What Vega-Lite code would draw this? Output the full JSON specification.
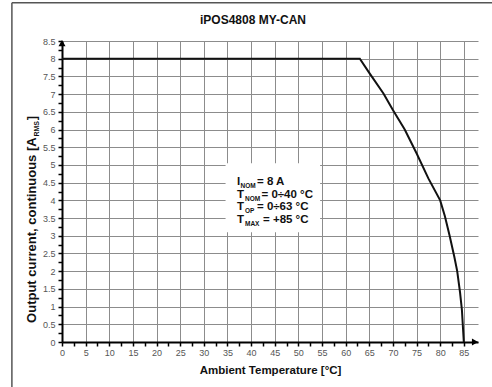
{
  "$schema": "https://vega.github.io/schema/vega-lite/v6.json",
  "width": 416,
  "height": 301,
  "autosize": {"type": "none"},
  "padding": {"left": 62, "top": 41, "right": 14, "bottom": 45},
  "config": {"view": {"stroke": null}, "font": "Liberation Sans", "text": {"font": "Liberation Sans"}},
  "datasets": {
    "curve": [
      {"x": 0, "y": 8}, {"x": 63, "y": 8}, {"x": 65, "y": 7.6}, {"x": 68, "y": 7.02},
      {"x": 70, "y": 6.55}, {"x": 72.5, "y": 6.0}, {"x": 75, "y": 5.33}, {"x": 77.5, "y": 4.62},
      {"x": 80, "y": 4.0}, {"x": 81, "y": 3.55}, {"x": 82, "y": 3.0}, {"x": 83, "y": 2.4}, {"x": 83.6, "y": 2.0},
      {"x": 84.2, "y": 1.4}, {"x": 84.6, "y": 0.9}, {"x": 85, "y": 0}
    ],
    "ann": [
      {"id": 1, "x": 37.02, "y": 4.43, "main": "I", "sub": "NOM", "rest": "= 8 A"},
      {"id": 2, "x": 37.02, "y": 4.08, "main": "T", "sub": "NOM", "rest": "= 0÷40 °C"},
      {"id": 3, "x": 37.02, "y": 3.72, "main": "T", "sub": "OP", "rest": "= 0÷63 °C"},
      {"id": 4, "x": 37.02, "y": 3.36, "main": "T", "sub": "MAX", "rest": "= +85 °C"}
    ]
  },
  "encoding": {
    "x": {
      "field": "x", "type": "quantitative",
      "scale": {"domain": [0, 88], "nice": false, "zero": false},
      "axis": {
        "values": [0,2.5,5,7.5,10,12.5,15,17.5,20,22.5,25,27.5,30,32.5,35,37.5,40,42.5,45,47.5,50,52.5,55,57.5,60,62.5,65,67.5,70,72.5,75,77.5,80,82.5,85],
        "labelExpr": "datum.value % 5 === 0 ? format(datum.value, 'd') : ''",
        "grid": true,
        "gridColor": "#8c8c8c",
        "gridWidth": 1,
        "gridOpacity": {"condition": {"test": "datum.value % 5 !== 0", "value": 0}, "value": 1},
        "domainColor": "#000000",
        "domainWidth": 2,
        "tickColor": "#000000",
        "tickWidth": 1.5,
        "tickSize": 4,
        "labelColor": "#555555",
        "labelFontSize": 9,
        "labelPadding": 2,
        "labelFlush": false,
        "labelOverlap": false,
        "title": "Ambient Temperature [°C]",
        "titleFontSize": 11.5,
        "titleFontWeight": "bold",
        "titleColor": "#111111",
        "titlePadding": 7
      }
    },
    "y": {
      "field": "y", "type": "quantitative",
      "scale": {"domain": [0, 8.5], "nice": false, "zero": false},
      "axis": {
        "values": [0,0.25,0.5,0.75,1,1.25,1.5,1.75,2,2.25,2.5,2.75,3,3.25,3.5,3.75,4,4.25,4.5,4.75,5,5.25,5.5,5.75,6,6.25,6.5,6.75,7,7.25,7.5,7.75,8,8.25,8.5],
        "labelExpr": "datum.value % 0.5 === 0 ? format(datum.value, '~g') : ''",
        "grid": true,
        "gridColor": "#8c8c8c",
        "gridWidth": 1,
        "gridOpacity": {"condition": {"test": "datum.value % 0.5 !== 0", "value": 0}, "value": 1},
        "domainColor": "#000000",
        "domainWidth": 2,
        "tickColor": "#000000",
        "tickWidth": 1.5,
        "tickSize": 4,
        "labelColor": "#555555",
        "labelFontSize": 9,
        "labelPadding": 3,
        "labelFlush": false,
        "labelOverlap": false,
        "title": null
      }
    }
  },
  "layer": [
    {
      "data": {"name": "curve"},
      "mark": {"type": "line", "color": "#111111", "strokeWidth": 2}
    },
    {
      "data": {"values": [
        {"x": -10.6, "y": -1.4, "x2": -10.6, "y2": 9.58},
        {"x": -10.6, "y": 9.58, "x2": 92, "y2": 9.58}
      ]},
      "mark": {"type": "rule", "color": "#555555", "strokeWidth": 1.5},
      "encoding": {
        "x2": {"field": "x2"},
        "y2": {"field": "y2"}
      }
    },
    {
      "data": {"values": [{"x": 34.6, "x2": 54.6, "y": 3.1, "y2": 5.05}]},
      "mark": {"type": "rect", "color": "#ffffff"},
      "encoding": {
        "x2": {"field": "x2"},
        "y2": {"field": "y2"}
      }
    },
    {
      "data": {"values": [{"x": 0, "y": 8.44}]},
      "mark": {"type": "point", "shape": "triangle-up", "filled": true, "color": "#000000", "size": 50, "opacity": 1}
    },
    {
      "data": {"values": [{"x": 87.36, "y": 0}]},
      "mark": {"type": "point", "shape": "triangle-right", "filled": true, "color": "#000000", "size": 50, "opacity": 1}
    },
    {
      "data": {"values": [{"x": 40.4, "y": 8.97, "label": "iPOS4808 MY-CAN"}]},
      "mark": {"type": "text", "fontSize": 12, "fontWeight": "bold", "color": "#111111", "align": "center", "baseline": "alphabetic"},
      "encoding": {"text": {"field": "label"}}
    },
    {
      "data": {"values": [{"x": -5.6, "y": 5.78, "label": "Output current, continuous [A"}]},
      "mark": {"type": "text", "fontSize": 13, "fontWeight": "bold", "color": "#111111", "align": "right", "baseline": "alphabetic", "angle": 270},
      "encoding": {"text": {"field": "label"}}
    },
    {
      "data": {"values": [{"x": -4.97, "y": 5.8, "label": "RMS"}]},
      "mark": {"type": "text", "fontSize": 7, "fontWeight": "bold", "color": "#111111", "align": "left", "baseline": "alphabetic", "angle": 270},
      "encoding": {"text": {"field": "label"}}
    },
    {
      "data": {"values": [{"x": -5.6, "y": 6.26, "label": "]"}]},
      "mark": {"type": "text", "fontSize": 13, "fontWeight": "bold", "color": "#111111", "align": "left", "baseline": "alphabetic", "angle": 270},
      "encoding": {"text": {"field": "label"}}
    },
    {
      "data": {"name": "ann"},
      "mark": {"type": "text", "fontSize": 11.5, "fontWeight": "bold", "color": "#111111", "align": "left", "baseline": "alphabetic"},
      "encoding": {"text": {"field": "main"}}
    },
    {
      "data": {"name": "ann"},
      "transform": [{"filter": "datum.id === 1"}],
      "mark": {"type": "text", "fontSize": 6.5, "fontWeight": "bold", "color": "#111111", "align": "left", "baseline": "alphabetic", "dx": 3.5, "dy": 3},
      "encoding": {"text": {"field": "sub"}}
    },
    {
      "data": {"name": "ann"},
      "transform": [{"filter": "datum.id > 1"}],
      "mark": {"type": "text", "fontSize": 6.5, "fontWeight": "bold", "color": "#111111", "align": "left", "baseline": "alphabetic", "dx": 8, "dy": 3},
      "encoding": {"text": {"field": "sub"}}
    },
    {
      "data": {"name": "ann"},
      "transform": [{"filter": "datum.id === 1"}],
      "mark": {"type": "text", "fontSize": 11.5, "fontWeight": "bold", "color": "#111111", "align": "left", "baseline": "alphabetic", "dx": 20},
      "encoding": {"text": {"field": "rest"}}
    },
    {
      "data": {"name": "ann"},
      "transform": [{"filter": "datum.id === 2"}],
      "mark": {"type": "text", "fontSize": 11.5, "fontWeight": "bold", "color": "#111111", "align": "left", "baseline": "alphabetic", "dx": 24.5},
      "encoding": {"text": {"field": "rest"}}
    },
    {
      "data": {"name": "ann"},
      "transform": [{"filter": "datum.id === 3"}],
      "mark": {"type": "text", "fontSize": 11.5, "fontWeight": "bold", "color": "#111111", "align": "left", "baseline": "alphabetic", "dx": 20},
      "encoding": {"text": {"field": "rest"}}
    },
    {
      "data": {"name": "ann"},
      "transform": [{"filter": "datum.id === 4"}],
      "mark": {"type": "text", "fontSize": 11.5, "fontWeight": "bold", "color": "#111111", "align": "left", "baseline": "alphabetic", "dx": 26},
      "encoding": {"text": {"field": "rest"}}
    }
  ]
}
